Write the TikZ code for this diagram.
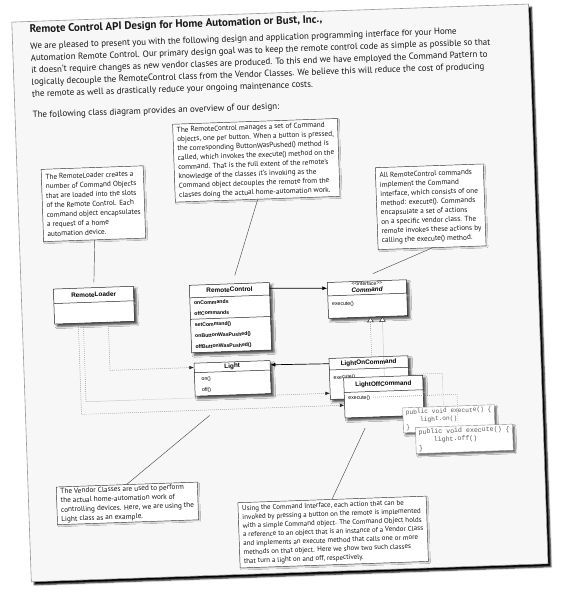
\documentclass[tikz,border=0pt]{standalone}
\usepackage{fontspec}
\setmainfont{PT Sans}
\newfontfamily\umlfont{Liberation Sans}
\newfontfamily\codefont{Liberation Mono}
\usetikzlibrary{shapes.multipart, arrows.meta, calc, shadows.blur}

% strut of a given total height (35% below the baseline)
\newcommand\vfix[1]{\vrule width 0pt height \dimexpr#1*65/100\relax depth \dimexpr#1*35/100\relax\relax}
\newcommand\ctitle{\bfseries\fontsize{6.4}{7}\selectfont}

\tikzset{
  sheet/.style={fill=black!3, draw=black!40, line width=0.6pt,
    blur shadow={shadow xshift=3pt, shadow yshift=-3pt, shadow blur radius=1.5pt, shadow opacity=100}},
  note/.style={draw=black!75, fill=white, line width=0.45pt, anchor=north west, align=left,
    inner xsep=4pt, inner ysep=3pt, text=black!90, font=\fontsize{7.3}{9.3}\selectfont,
    blur shadow={shadow xshift=1pt, shadow yshift=-1pt, shadow blur radius=1pt, shadow opacity=20}},
  umlclass/.style={draw=black!85, fill=white, line width=0.5pt, anchor=north west,
    rectangle split, rectangle split parts=#1, rectangle split draw splits,
    rectangle split part align={center,left,left}, align=left,
    inner xsep=4pt, inner ysep=0pt, font=\umlfont\fontsize{5.2}{6}\selectfont,
    blur shadow={shadow xshift=2.5pt, shadow yshift=-2.5pt, shadow blur radius=2pt, shadow opacity=70}},
  codebox/.style={draw=black!45, fill=white, line width=0.4pt, anchor=north west, align=left,
    inner xsep=3pt, inner ysep=2pt, text=black!65,
    blur shadow={shadow xshift=2pt, shadow yshift=-2pt, shadow blur radius=1.5pt, shadow opacity=60}},
  pointer/.style={draw=black!70, line width=0.45pt},
  dep/.style={draw=black!55, line width=0.5pt, dash pattern=on 0.7pt off 1.3pt,
    -{Latex[length=4.5pt, width=3.5pt, color=black!85]}},
  dots/.style={draw=black!50, line width=0.5pt, dash pattern=on 0.7pt off 1.3pt},
  implements/.style={draw=black!50, line width=0.5pt, dash pattern=on 0.7pt off 1.3pt,
    {Triangle[open, fill=white, length=5pt, width=6.5pt, color=black!85]}-},
  assoc/.style={draw=black, line width=0.7pt, -{Latex[length=5pt, width=4pt]}}
}

\begin{document}
\lineskip=0pt
\begin{tikzpicture}[x=1pt, y=-1pt]
  \useasboundingbox (0,0) rectangle (567,595);
  \begin{scope}[rotate=2, transform shape]
  % the sheet of paper
  \path[sheet] (11,22.5) rectangle (528,582.5);

  % heading and introduction
  \node[anchor=base west, inner sep=0, text=black!90, font=\bfseries\fontsize{11}{13}\selectfont] (title) at (28.5,34)
    {Remote Control API Design for Home Automation or Bust, Inc.,};
  \node[anchor=north west, inner sep=0, align=left, text=black!90, font=\fontsize{9}{12}\selectfont] (intro) at (28.5,43.5)
    {We are pleased to present you with the following design and application programming interface for your Home\\
     Automation Remote Control.  Our primary design goal was to keep the remote control code as simple as possible so that\\
     it doesn't require changes as new vendor classes are produced. To this end we have employed the Command Pattern to\\
     logically decouple the RemoteControl class from the Vendor Classes. We believe this will reduce the cost of producing\\
     the remote as well as drastically reduce your ongoing maintenance costs.};
  \node[anchor=base west, inner sep=0, text=black!90, font=\fontsize{9}{12}\selectfont] (lead) at (28.5,119)
    {The following class diagram provides an overview of our design:};

  % notes
  \node[note, inner ysep=5pt, font=\fontsize{7.3}{9.5}\selectfont] (loaderNote) at (35,170.5)
    {The RemoteLoader creates a\\ number of Command Objects\\ that are loaded into the slots\\
     of the Remote Control.  Each\\ command object encapsulates\\ a request of a home\\ automation device.};
  \node[note] (rcNote) at (168,130)
    {The RemoteControl manages a set of Command\\ objects, one per button.  When a button is pressed,\\
     the corresponding ButtonWasPushed() method is\\ called, which invokes the execute() method on the\\
     command.  That is the full extent of the remote's\\ knowledge of the classes it's invoking as the\\
     Command object decouples the remote from the\\ classes doing the actual home-automation work.};
  \node[note, inner ysep=5pt] (cmdNote) at (369,180.5)
    {All RemoteControl commands\\ implement the Command\\ interface, which consists of one\\
     method: execute().  Commands\\ encapsulate a set of actions\\ on a specific vendor class.  The\\
     remote invokes these actions by\\ calling the execute() method.};
  \node[note, inner ysep=1.5pt] (vendorNote) at (39,488.5)
    {The Vendor Classes are used to perform\\ the actual home-automation work of\\
     controlling devices. Here, we are using the\\ Light class as an example.};
  \node[note, font=\fontsize{7}{8.8}\selectfont] (ifaceNote) at (220,510.5)
    {Using the Command Interface,  each action that can be\\ invoked by pressing a button on the remote is implemented\\
     with a simple Command object. The Command Object holds\\ a reference to an object that is an instance of a Vendor Class\\
     and implements an execute method that calls one or more\\ methods on that object.  Here we show two such classes\\
     that turn a light on and off, respectively.};

  % classes
  \node[umlclass=2, minimum width=80pt] (loader) at (43,290.5)
    {\vfix{14pt}\ctitle RemoteLoader \nodepart{two}\vfix{20pt}};
  \node[umlclass=3, minimum width=80pt] (rc) at (179,291.5)
    {\vfix{12pt}\ctitle RemoteControl
     \nodepart{two}\vfix{10.5pt}\bfseries onCommands\\\vfix{10.5pt}\bfseries offCommands
     \nodepart{three}\vfix{11pt}\bfseries setCommand()\\\vfix{11pt}\bfseries onButtonWasPushed()\\\vfix{11pt}\bfseries offButtonWasPushed()};
  \node[umlclass=2, minimum width=76pt] (light) at (181,369.5)
    {\vfix{9pt}\ctitle Light \nodepart{two}\vfix{12pt}\hspace{3pt}on()\\\vfix{11pt}\hspace{3pt}off()};
  \node[umlclass=2, minimum width=79pt, align=center] (cmd) at (317,293.5)
    {\vfix{6pt}\fontsize{5}{6}\selectfont <{}<interface>{}>\\\vfix{6.5pt}\ctitle\itshape Command
     \nodepart{two}\vfix{15pt}execute()\\\vfix{7pt}};
  \node[umlclass=2, minimum width=79pt] (lighton) at (316,369.5)
    {\vfix{11pt}\ctitle LightOnCommand \nodepart{two}\vfix{14pt}execute()\\\vfix{15pt}};

  % LightOnCommand.execute() calls light.on()
  \coordinate (exOn) at ($(lighton.north east)+(0,19)$);
  \node[umlclass=2, minimum width=79pt] (lightoff) at (330,389.5)
    {\vfix{14pt}\ctitle LightOffCommand \nodepart{two}\vfix{11pt}execute()\\\vfix{14pt}};

  % pointers from the notes
  \coordinate (loaderTip) at (84,285.5);
  \coordinate (rcTip) at (225,283.5);
  \coordinate (cmdTip) at (363,286.5);
  \coordinate (vendorTip) at (195,422.5);
  \coordinate (ifaceTip) at (350,440.5);
  \draw[pointer] (loaderNote.south) -- (loaderTip);
  \draw[pointer] (rcNote.south) -- (rcTip);
  \draw[pointer] (cmdNote.south) -- (cmdTip);
  \draw[pointer] (vendorNote.north) -- (vendorTip);
  \draw[pointer] (ifaceNote.north) -- (ifaceTip);

  % associations
  \draw[assoc] ($(rc.north east)+(0,6)$) -- ($(cmd.north west)+(0,6)$);
  \draw[assoc] ($(lighton.north west)+(0,5.5)$) -- ($(light.north east)+(0,4.5)$);

  % commands implement Command
  \coordinate (genOn) at ($(cmd.south west)+(42,0)$);
  \coordinate (genOnDn) at ($(genOn)+(0,10)$);
  \coordinate (genOff) at ($(cmd.south west)+(54,0)$);
  \coordinate (genOffDn) at ($(genOff)+(0,10)$);
  \draw[implements] (genOn) -- ($(genOn)!(lighton.north)!(genOnDn)$);
  \draw[implements] (genOff) -- ($(genOff)!(lightoff.north)!(genOffDn)$);

  % RemoteLoader creates the light and the commands
  \coordinate (ldA) at ($(loader.south west)+(54,0)$);
  \coordinate (ldB) at ($(loader.south west)+(29,0)$);
  \coordinate (ldC) at ($(loader.south west)+(24,0)$);
  \coordinate (ldAd) at ($(ldA)+(0,10)$);
  \coordinate (ldBd) at ($(ldB)+(0,10)$);
  \coordinate (ldCd) at ($(ldC)+(0,10)$);
  \coordinate (inLight) at ($(light.north west)+(0,4.5)$);
  \coordinate (inOn) at ($(lighton.north west)+(0,35)$);
  \coordinate (inOff) at ($(lightoff.north west)+(0,27.5)$);
  \draw[dep] (ldA) -- ($(ldA)!(inLight)!(ldAd)$) -- (inLight);
  \draw[dep] (ldB) -- ($(ldB)!(inOn)!(ldBd)$) -- (inOn);
  \draw[dep] (ldC) -- ($(ldC)!(inOff)!(ldCd)$) -- (inOff);

  % code of the two execute() methods
  \node[codebox, font=\codefont\fontsize{6.2}{7.6}\selectfont] (codeon) at (388,421.5)
    {public void execute() \{\\\hspace*{14pt}light.on()\\\}};
  \coordinate (cbOn) at ($(codeon.north west)+(41,0)$);
  \coordinate (cbOnUp) at ($(cbOn)+(0,-10)$);
  \draw[dots] (exOn) -- ($(cbOn)!(exOn)!(cbOnUp)$) -- (cbOn);

  \coordinate (exOff) at ($(lightoff.north west)+(29,20.5)$);
  \node[codebox, font=\codefont\fontsize{6.6}{8}\selectfont] (codeoff) at (400,441.5)
    {public void execute() \{\\\hspace*{15pt}light.off()\\\}};
  \coordinate (cbOffTop) at ($(codeoff.north west)+(43,0)$);
  \coordinate (cbOffUp) at ($(cbOffTop)+(0,-10)$);
  \draw[dots] (exOff) -- ($(cbOffTop)!(exOff)!(cbOffUp)$) -- (cbOffTop);
  \end{scope}
\end{tikzpicture}
\end{document}
